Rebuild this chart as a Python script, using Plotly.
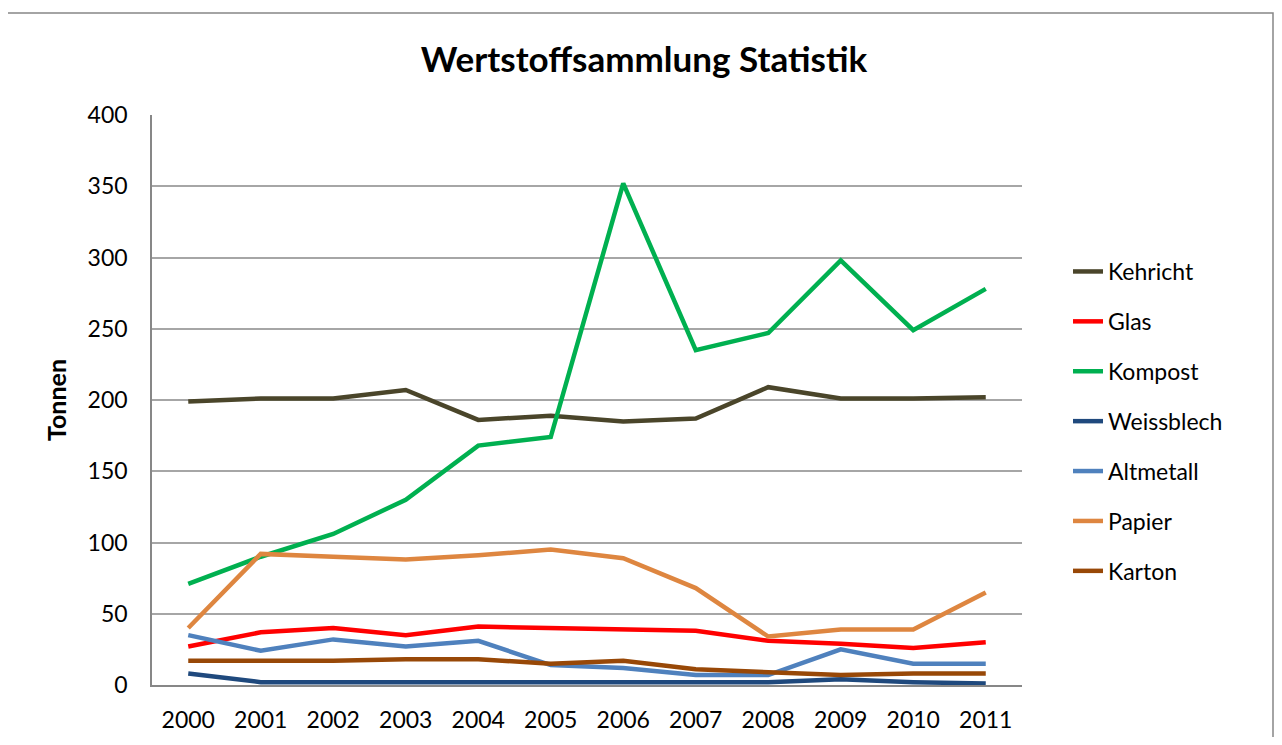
import plotly.graph_objects as go

years = ["2000", "2001", "2002", "2003", "2004", "2005", "2006", "2007", "2008", "2009", "2010", "2011"]

kehricht = [199, 201, 201, 207, 186, 189, 185, 187, 209, 201, 201, 202]
glas = [27, 37, 40, 35, 41, 40, 39, 38, 31, 29, 26, 30]
kompost = [71, 90, 106, 130, 168, 174, 352, 235, 247, 298, 249, 278]
weissblech = [8, 2, 2, 2, 2, 2, 2, 2, 2, 4, 2, 1]
altmetall = [35, 24, 32, 27, 31, 14, 12, 7, 7, 25, 15, 15]
papier = [40, 92, 90, 88, 91, 95, 89, 68, 34, 39, 39, 65]
karton = [17, 17, 17, 18, 18, 15, 17, 11, 9, 7, 8, 8]

series = [
    ("Kehricht", kehricht, "#4A452A"),
    ("Glas", glas, "#FF0000"),
    ("Kompost", kompost, "#00B050"),
    ("Weissblech", weissblech, "#1F497D"),
    ("Altmetall", altmetall, "#4F81BD"),
    ("Papier", papier, "#DE8640"),
    ("Karton", karton, "#984807"),
]

FONT = "Lato"

fig = go.Figure()
for i, (name, vals, col) in enumerate(series):
    fig.add_trace(go.Scatter(
        x=years, y=vals, name=name, mode="lines",
        line=dict(color=col, width=4.5),
        legendgroup=f"g{i}",
    ))

# page body has an 8px margin; work in screen pixels and convert
OFF = 8
W, H = 1282 - 2 * OFF, 745 - 2 * OFF
PL, PR, PT, PB = 152, 1022, 115, 685  # plot area in screen pixels
L = PL - OFF
R = W - (PR - OFF)
T = PT - OFF
B = H - (PB - OFF)
pw = W - L - R
ph = H - T - B

def px_x(x):
    return (x - OFF - L) / pw

def px_y(y):
    return (H - B - (y - OFF)) / ph

fig.update_layout(
    width=W, height=H,
    margin=dict(l=L, r=R, t=T, b=B, autoexpand=False),
    paper_bgcolor="white",
    plot_bgcolor="white",
    font=dict(family=FONT, color="#000000"),
    title=dict(
        text="<b>Wertstoffsammlung Statistik</b>",
        x=px_x(644), xref="paper", xanchor="center",
        y=1 - (60 - OFF) / H, yanchor="middle",
        font=dict(size=35, family=FONT, color="#000000"),
    ),
    xaxis=dict(
        type="category",
        range=[-0.5, 11.5],
        showgrid=False,
        showline=True, linecolor="#878787", linewidth=1.5,
        ticks="",
        ticklabelstandoff=14,
        tickfont=dict(size=23, family=FONT, color="#000000"),
        fixedrange=True,
        automargin=False,
    ),
    yaxis=dict(
        range=[0, 400],
        dtick=50,
        showgrid=True, gridcolor="#A6A6A6", gridwidth=1.5,
        showline=True, linecolor="#878787", linewidth=1.5,
        ticks="",
        ticklabelstandoff=18,
        tickfont=dict(size=23, family=FONT, color="#000000"),
        title=dict(text="<b>Tonnen</b>", font=dict(size=25, family=FONT), standoff=14),
        zeroline=False,
        automargin=False,
    ),
    legend=dict(
        x=px_x(1068), xanchor="left",
        y=px_y(250), yanchor="top",
        font=dict(size=23, family=FONT, color="#000000"),
        tracegroupgap=17,
        bgcolor="rgba(0,0,0,0)",
    ),
    showlegend=True,
)

fig.add_shape(
    type="rect", xref="paper", yref="paper",
    x0=px_x(3.5), x1=px_x(1273), y0=px_y(770), y1=px_y(13),
    line=dict(color="#868686", width=1.5),
    fillcolor="rgba(0,0,0,0)", layer="below",
)

fig.write_html("out.html")
